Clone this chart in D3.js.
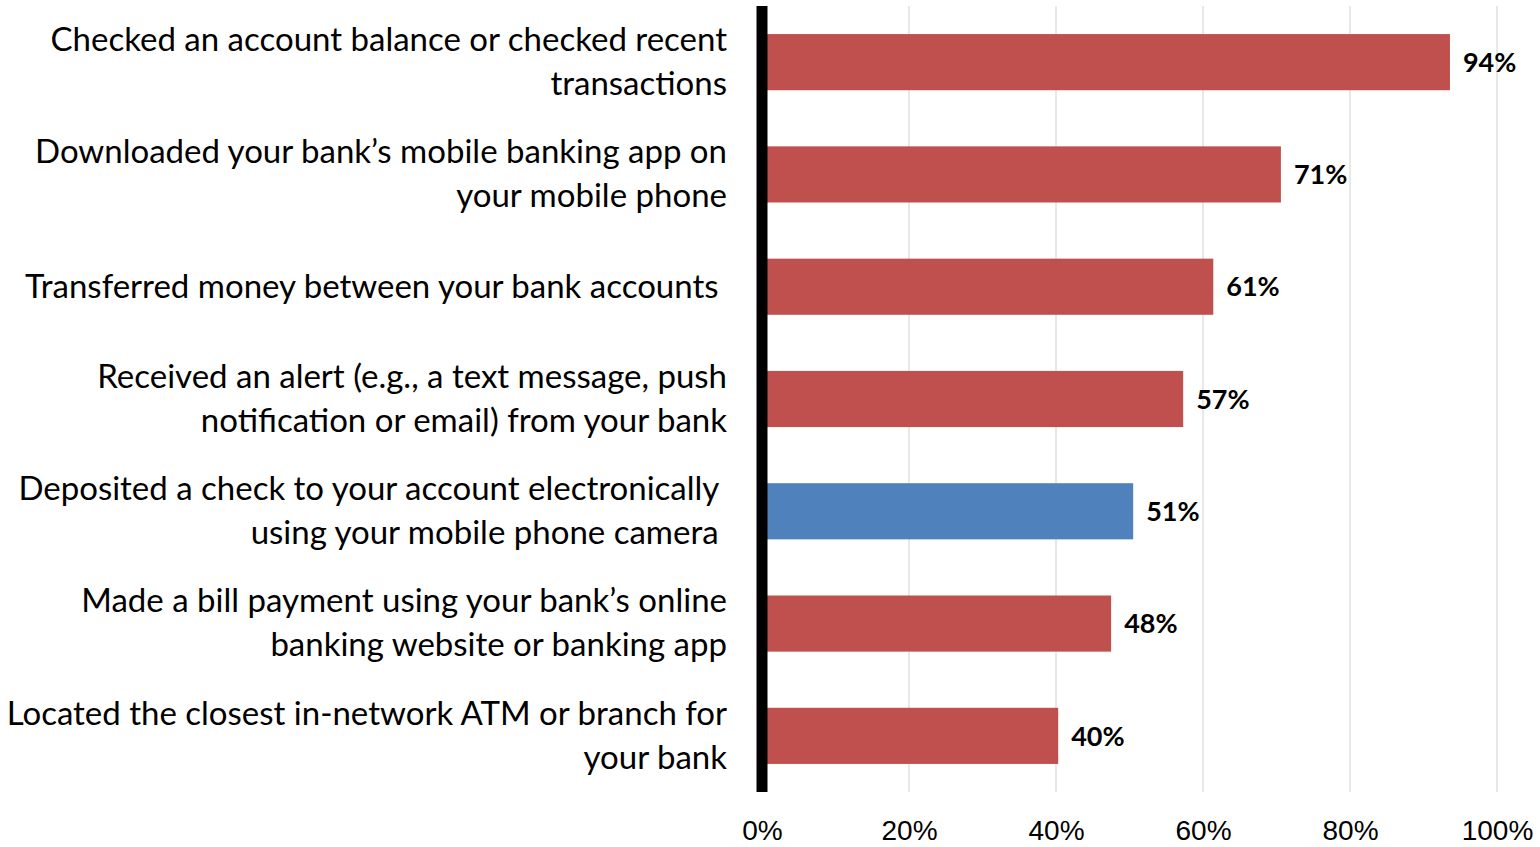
<!DOCTYPE html>
<html>
<head>
<meta charset="utf-8">
<script src="https://cdn.jsdelivr.net/npm/d3@7"></script>
<style>
  body { margin: 0; background: #fff; }
  svg { display: block; }
</style>
</head>
<body>
<div id="chart"></div>
<script>
// Mobile banking activities - horizontal bar chart

// category labels, one entry per bar, split in lines like the original
var categories = [
    ["Checked an account balance or checked recent", "transactions"],
    ["Downloaded your bank\u2019s mobile banking app on", "your mobile phone"],
    ["Transferred money between your bank accounts "],
    ["Received an alert (e.g., a text message, push", "notification or email) from your bank"],
    ["Deposited a check to your account electronically ", "using your mobile phone camera "],
    ["Made a bill payment using your bank\u2019s online", "banking website or banking app"],
    ["Located the closest in-network ATM or branch for", "your bank"]
];
var values = [93.6, 70.6, 61.4, 57.3, 50.5, 47.5, 40.3];
var highlight = [false, false, false, false, true, false, false];
var ticks = [0, 20, 40, 60, 80, 100];

var W = 1540, H = 847;
var x0 = 762, x1 = 1497, yTop = 6, yBot = 792;

var svg = d3.select("#chart").append("svg")
    .attr("width", W)
    .attr("height", H);

var x = d3.scaleLinear().domain([0, 100]).range([x0, x1]);
var y = d3.scaleBand()
    .domain(d3.range(categories.length))
    .range([yTop, yBot])
    .paddingInner(0.5)
    .paddingOuter(0.25);

// gridlines
svg.append("g").selectAll("line")
    .data(ticks.slice(1))
    .enter().append("line")
    .attr("x1", function(d){ return x(d); })
    .attr("x2", function(d){ return x(d); })
    .attr("y1", yTop)
    .attr("y2", yBot)
    .attr("stroke", "#d9d9d9")
    .attr("stroke-width", 1.2);

// bars
svg.append("g").selectAll("rect")
    .data(values)
    .enter().append("rect")
    .attr("x", x(0))
    .attr("y", function(d, i){ return y(i); })
    .attr("width", function(d){ return x(d) - x(0); })
    .attr("height", y.bandwidth())
    .attr("fill", function(d, i){ return highlight[i] ? "#4f81bd" : "#c0504d"; });

// value labels
svg.append("g").selectAll("text")
    .data(values)
    .enter().append("text")
    .attr("x", function(d){ return x(d) + 13; })
    .attr("y", function(d, i){ return y(i) + y.bandwidth() / 2; })
    .attr("dy", "0.36em")
    .attr("font-family", "Lato, 'Noto Sans', sans-serif")
    .attr("font-weight", "bold")
    .attr("font-size", "27px")
    .attr("fill", "#000")
    .text(function(d){ return Math.round(d) + "%"; });

// black axis line at 0
svg.append("line")
    .attr("x1", x(0)).attr("x2", x(0))
    .attr("y1", yTop).attr("y2", yBot)
    .attr("stroke", "#000")
    .attr("stroke-width", 11);

// category labels
var lineH = 44;
var cat = svg.append("g").selectAll("text")
    .data(categories)
    .enter().append("text")
    .attr("text-anchor", "end")
    .attr("font-family", "Lato, 'Noto Sans', sans-serif")
    .attr("font-size", "33px")
    .attr("fill", "#000")
    .style("white-space", "pre");

cat.each(function(lines, i){
    var cy = y(i) + y.bandwidth() / 2;
    var start = cy - (lines.length - 1) * lineH / 2;
    d3.select(this).selectAll("tspan")
        .data(lines)
        .enter().append("tspan")
        .attr("x", 727)
        .attr("y", function(d, j){ return start + j * lineH; })
        .attr("dy", "0.33em")
        .text(function(d){ return d; });
});

// x axis tick labels
var xAxis = d3.axisBottom(x)
    .tickValues(ticks)
    .tickSize(0)
    .tickFormat(function(d){ return d + "%"; });

var gx = svg.append("g")
    .attr("transform", "translate(0," + yBot + ")")
    .call(xAxis);
gx.select(".domain").remove();
gx.selectAll("text")
    .attr("y", 48)
    .attr("dy", 0)
    .attr("font-family", "'Liberation Sans', Arial, sans-serif")
    .attr("font-size", "28px")
    .attr("fill", "#000");
</script>
</body>
</html>
